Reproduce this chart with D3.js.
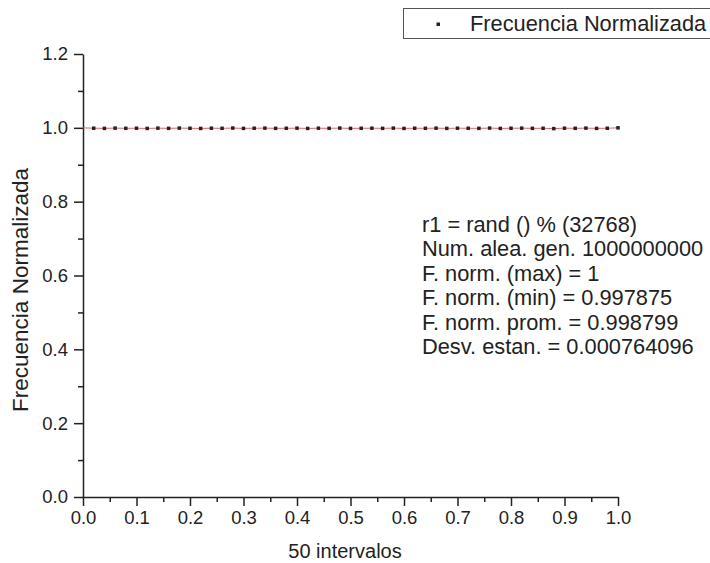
<!DOCTYPE html>
<html>
<head>
<meta charset="utf-8">
<script src="https://cdn.jsdelivr.net/npm/d3@7"></script>
<style>
  body { margin: 0; background: #fff; overflow: hidden; }
  text { font-family: Arial, "Liberation Sans", sans-serif; fill: #222; }
</style>
</head>
<body>
<div id="chart"></div>
<script>
// 50 intervals, x position of each interval end
var intervals = [0.02, 0.04, 0.06, 0.08, 0.10, 0.12, 0.14, 0.16, 0.18, 0.20,
  0.22, 0.24, 0.26, 0.28, 0.30, 0.32, 0.34, 0.36, 0.38, 0.40,
  0.42, 0.44, 0.46, 0.48, 0.50, 0.52, 0.54, 0.56, 0.58, 0.60,
  0.62, 0.64, 0.66, 0.68, 0.70, 0.72, 0.74, 0.76, 0.78, 0.80,
  0.82, 0.84, 0.86, 0.88, 0.90, 0.92, 0.94, 0.96, 0.98, 1.00];

// normalized frequency (all very close to 1)
var frecuencia = [0.9990, 0.9985, 0.9992, 0.9987, 0.9989, 0.9984, 0.9991, 0.9986, 0.9993, 0.9988,
  0.9983, 0.9990, 0.9987, 0.9994, 0.9985, 0.9989, 0.9992, 0.9986, 0.9988, 0.9991,
  0.9984, 0.9990, 0.9987, 0.9993, 0.9985, 0.9988, 0.9990, 0.9986, 0.9992, 0.9984,
  0.9989, 0.9987, 0.9991, 0.9985, 0.9990, 0.9988, 0.9986, 0.9993, 0.9984, 0.9989,
  0.9991, 0.9986, 0.9988, 0.997875, 0.9990, 0.9987, 0.9992, 0.9985, 0.9989, 1.0000];

var xTicks = [0, 0.1, 0.2, 0.3, 0.4, 0.5, 0.6, 0.7, 0.8, 0.9, 1.0];
var yTicks = [0, 0.2, 0.4, 0.6, 0.8, 1.0, 1.2];

var notes = [
  "r1 = rand () % (32768)",
  "Num. alea. gen. 1000000000",
  "F. norm. (max) = 1",
  "F. norm. (min) = 0.997875",
  "F. norm. prom. = 0.998799",
  "Desv. estan. = 0.000764096"
];

var svgwidth = 710;
var svgheight = 563;
var margin = { top: 54, bottom: 66, left: 83, right: 92 };
var width = svgwidth - margin.left - margin.right;
var height = svgheight - margin.top - margin.bottom;

var svg = d3.select("#chart")
  .append("svg")
  .attr("width", svgwidth)
  .attr("height", svgheight);

var chartGroup = svg.append("g")
  .attr("transform", `translate(${margin.left}, ${margin.top})`);

var xscale = d3.scaleLinear().domain([0, 1]).range([0, width]);
var yscale = d3.scaleLinear().domain([0, 1.2]).range([height, 0]);

// minor ticks
var xMinor = d3.range(0.05, 1, 0.1);
var yMinor = d3.range(0.1, 1.2, 0.2);

chartGroup.append("g")
  .attr("transform", `translate(0, ${height})`)
  .call(d3.axisBottom(xscale).tickValues(xMinor).tickSize(5).tickFormat(""))
  .call(g => g.select(".domain").remove());
chartGroup.append("g")
  .call(d3.axisLeft(yscale).tickValues(yMinor).tickSize(5).tickFormat(""))
  .call(g => g.select(".domain").remove());

var xaxis = chartGroup.append("g")
  .attr("transform", `translate(0, ${height})`)
  .call(d3.axisBottom(xscale).tickValues(xTicks).tickSize(9).tickSizeOuter(0)
    .tickPadding(5).tickFormat(d3.format(".1f")));
var yaxis = chartGroup.append("g")
  .call(d3.axisLeft(yscale).tickValues(yTicks).tickSize(9).tickSizeOuter(0)
    .tickPadding(6).tickFormat(d3.format(".1f")));

[xaxis, yaxis].forEach(function(a) {
  a.selectAll("text").style("font-size", "18.5px").style("fill", "#222");
  a.select(".domain").attr("stroke", "#222").attr("stroke-width", 1.5);
});
chartGroup.selectAll("line").attr("stroke", "#222").attr("stroke-width", 1.5);

// line through points
var data = intervals.map((x, i) => ({ x: x, y: frecuencia[i] }));
chartGroup.append("path")
  .datum([{ x: 0, y: 1 }].concat(data))
  .attr("fill", "none")
  .attr("stroke", "#e06666")
  .attr("stroke-width", 1)
  .attr("d", d3.line().x(d => xscale(d.x)).y(d => yscale(d.y)));

chartGroup.selectAll("rect.pt")
  .data(data)
  .enter()
  .append("rect")
  .attr("class", "pt")
  .attr("x", d => xscale(d.x) - 1.75)
  .attr("y", d => yscale(d.y) - 1.75)
  .attr("width", 3.5)
  .attr("height", 3.5)
  .attr("fill", "#222");

// annotation
chartGroup.append("g")
  .selectAll("text")
  .data(notes)
  .enter()
  .append("text")
  .attr("x", 339)
  .attr("y", (d, i) => 178 + i * 24.4)
  .style("font-size", "21.8px")
  .text(d => d);

// axis titles
svg.append("text")
  .attr("x", 345)
  .attr("y", 558)
  .attr("text-anchor", "middle")
  .style("font-size", "20px")
  .text("50 intervalos");

svg.append("text")
  .attr("transform", "translate(28, 290) rotate(-90)")
  .attr("text-anchor", "middle")
  .style("font-size", "22.5px")
  .text("Frecuencia Normalizada");

// legend
var legend = svg.append("g");
legend.append("rect")
  .attr("x", 403.5).attr("y", 8.5)
  .attr("width", 320).attr("height", 30)
  .attr("fill", "#fff").attr("stroke", "#555").attr("stroke-width", 1);
legend.append("rect")
  .attr("x", 436.5).attr("y", 22.5).attr("width", 3.5).attr("height", 3.5)
  .attr("fill", "#222");
legend.append("text")
  .attr("x", 470).attr("y", 31)
  .style("font-size", "21.8px")
  .text("Frecuencia Normalizada");
</script>
</body>
</html>
